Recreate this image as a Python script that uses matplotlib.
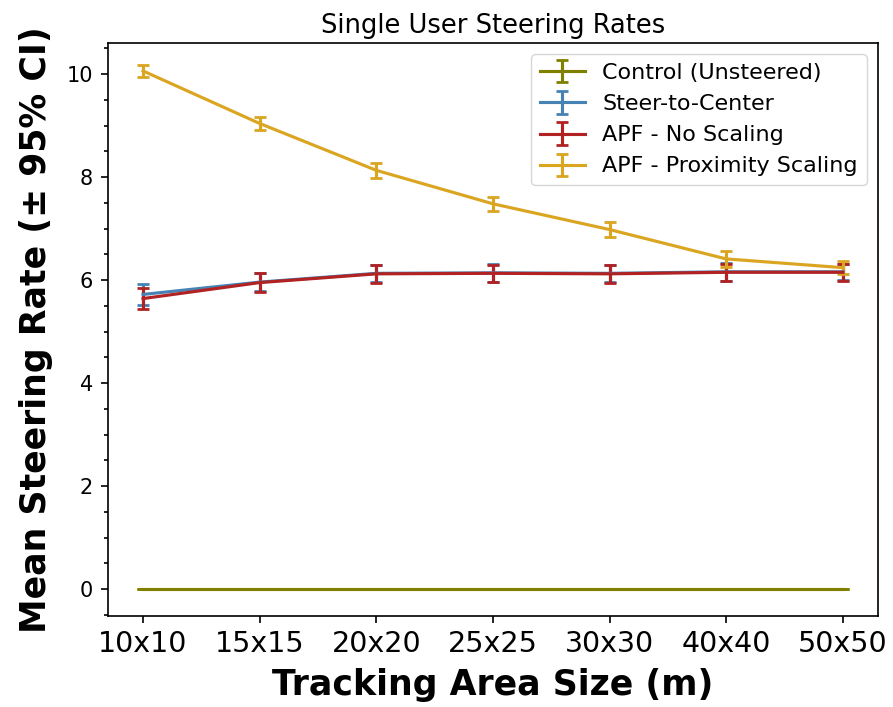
import matplotlib.pyplot as plt
from matplotlib.ticker import MultipleLocator

# tamaños del area de tracking
areas = ['10x10', '15x15', '20x20', '25x25', '30x30', '40x40', '50x50']

# tasas promedio por condicion
control = [0, 0, 0, 0, 0, 0, 0]
steerCenter = [5.72, 5.96, 6.13, 6.14, 6.13, 6.16, 6.16]
apfNoScaling = [5.64, 5.95, 6.12, 6.13, 6.12, 6.15, 6.15]
apfProximity = [10.06, 9.04, 8.13, 7.48, 6.98, 6.41, 6.24]

# intervalos de confianza 95%
controlErr = [0, 0, 0, 0, 0, 0, 0]
steerCenterErr = [0.2, 0.18, 0.17, 0.17, 0.17, 0.17, 0.16]
apfNoScalingErr = [0.2, 0.18, 0.17, 0.17, 0.17, 0.17, 0.16]
apfProximityErr = [0.12, 0.12, 0.14, 0.14, 0.15, 0.15, 0.12]

fig = plt.figure(figsize=(8.93, 7.07), dpi=100)
ax = fig.add_axes([0.121, 0.129, 0.862, 0.810])

x = range(len(areas))
estilo = dict(lw=2.25, capsize=4.5, capthick=2)
ax.errorbar(x, control, yerr=controlErr, color='#808000', label='Control (Unsteered)', **estilo)
ax.errorbar(x, steerCenter, yerr=steerCenterErr, color='#4682B4', label='Steer-to-Center', **estilo)
ax.errorbar(x, apfNoScaling, yerr=apfNoScalingErr, color='#B22222', label='APF - No Scaling', **estilo)
ax.errorbar(x, apfProximity, yerr=apfProximityErr, color='#DAA520', label='APF - Proximity Scaling', **estilo)

ax.set_xticks(list(x))
ax.set_xticklabels(areas)
ax.set_ylim(-0.52, 10.6)
ax.yaxis.set_minor_locator(MultipleLocator(0.5))
ax.tick_params(axis='x', labelsize=20.5, length=5.25, width=1.2, pad=5)
ax.tick_params(axis='y', which='major', labelsize=15, length=5.25, width=1.2, pad=5.5)
ax.tick_params(axis='y', which='minor', length=3, width=1.2)
for s in ax.spines.values():
    s.set_linewidth(1.2)

ax.set_title('Single User Steering Rates', fontsize=18.5, pad=7)
ax.set_xlabel('Tracking Area Size (m)', fontsize=25, fontweight='bold', labelpad=7)
ax.set_ylabel('Mean Steering Rate (± 95% CI)', fontsize=25, fontweight='bold', labelpad=10)
ax.legend(loc='upper right', fontsize=16)

fig.savefig('out.png')
